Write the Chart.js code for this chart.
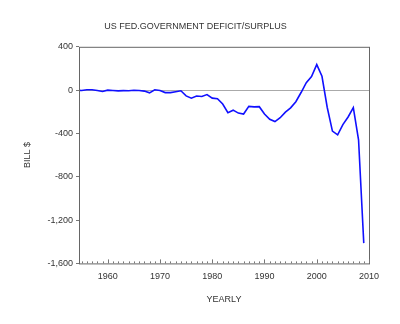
<!DOCTYPE html>
<html>
<head>
<meta charset="utf-8">
<script src="https://cdn.jsdelivr.net/npm/chart.js@4.4.0/dist/chart.umd.min.js"></script>
<style>
  html, body { margin: 0; padding: 0; background: #fff; }
  #wrap { width: 400px; height: 324px; }
</style>
</head>
<body>
<div id="wrap"><canvas id="myChart" width="400" height="324"></canvas></div>
<script>
// Federal deficit (-) / surplus (+), billions of dollars, by year
const years = [1954, 1955, 1956, 1957, 1958, 1959, 1960, 1961, 1962, 1963, 1964,
    1965, 1966, 1967, 1968, 1969, 1970, 1971, 1972, 1973, 1974,
    1975, 1976, 1977, 1978, 1979, 1980, 1981, 1982, 1983, 1984,
    1985, 1986, 1987, 1988, 1989, 1990, 1991, 1992, 1993, 1994,
    1995, 1996, 1997, 1998, 1999, 2000, 2001, 2002, 2003, 2004,
    2005, 2006, 2007, 2008, 2009];
const balance = [-1, -3, 4, 3, -3, -13, 0, -3, -7, -5, -6,
    -1, -4, -9, -25, 3, -3, -23, -23, -15, -6,
    -53, -74, -54, -59, -41, -74, -79, -128, -208, -185,
    -212, -221, -150, -155, -153, -221, -269, -290, -255, -203,
    -164, -107, -22, 69, 126, 236, 128, -158, -378, -413,
    -318, -248, -161, -459, -1413];
const yearTicks = [1960, 1970, 1980, 1990, 2000, 2010];

const points = years.map((yr, i) => ({ x: yr, y: balance[i] }));
const txt = '#333';
const font = { family: 'Liberation Sans, Arial, sans-serif', size: 9, weight: 'normal' };

// thousands separator, e.g. -1,200
const fmt = v => (v < 0 ? '-' : '') + String(Math.abs(v)).replace(/\B(?=(\d{3})+(?!\d))/g, ',');

// frame around the plot plus one small tick per year on the bottom axis
const framePlugin = {
    id: 'frame',
    afterDraw(chart) {
        const { ctx, chartArea: a, scales } = chart;
        ctx.save();
        ctx.strokeStyle = '#666';
        ctx.lineWidth = 1;
        ctx.strokeRect(a.left + 0.5, a.top + 0.5, a.right - a.left, a.bottom - a.top);
        ctx.strokeStyle = '#777';
        ctx.beginPath();
        for (let yr = 1955; yr <= 2010; yr++) {
            const px = Math.round(scales.x.getPixelForValue(yr)) + 0.5;
            const len = yr % 10 === 0 ? 4 : 2;
            ctx.moveTo(px, a.bottom);
            ctx.lineTo(px, a.bottom - len);
        }
        ctx.stroke();
        ctx.restore();
    }
};

const ctx = document.getElementById('myChart').getContext('2d');
const myChart = new Chart(ctx, {
    type: 'line',
    data: {
        datasets: [{
            label: 'Deficit/Surplus',
            data: points,
            borderColor: '#1010ff',
            borderWidth: 1.6,
            pointRadius: 0,
            tension: 0,
            fill: false
        }]
    },
    options: {
        responsive: false,
        animation: false,
        layout: { padding: { left: 22, right: 31, top: 0, bottom: 19 } },
        plugins: {
            legend: { display: false },
            tooltip: { enabled: false },
            title: {
                display: true,
                text: 'US FED.GOVERNMENT DEFICIT/SURPLUS',
                color: txt,
                font: font,
                padding: { top: 21, bottom: 15 }
            }
        },
        scales: {
            x: {
                type: 'linear',
                min: 1954.5,
                max: 2010,
                afterBuildTicks: scale => {
                    scale.ticks = yearTicks.map(v => ({ value: v }));
                },
                ticks: {
                    color: txt,
                    font: font,
                    maxRotation: 0,
                    padding: 8,
                    callback: v => String(v)
                },
                grid: { display: false, drawTicks: false },
                border: { display: false },
                title: {
                    display: true,
                    text: 'YEARLY',
                    color: txt,
                    font: font,
                    padding: { top: 4, bottom: 0 }
                }
            },
            y: {
                min: -1600,
                max: 400,
                ticks: {
                    stepSize: 400,
                    color: txt,
                    font: font,
                    padding: 3,
                    callback: v => fmt(v)
                },
                grid: {
                    color: c => c.tick && c.tick.value === 0 ? '#aaa' : 'rgba(0,0,0,0)',
                    tickColor: '#777',
                    tickLength: 3
                },
                border: { display: false },
                title: {
                    display: true,
                    text: 'BILL $',
                    color: txt,
                    font: font,
                    padding: { top: 0, bottom: 0 }
                },
                afterFit: scale => { scale.width = 57; }
            }
        }
    },
    plugins: [framePlugin]
});
</script>
</body>
</html>
